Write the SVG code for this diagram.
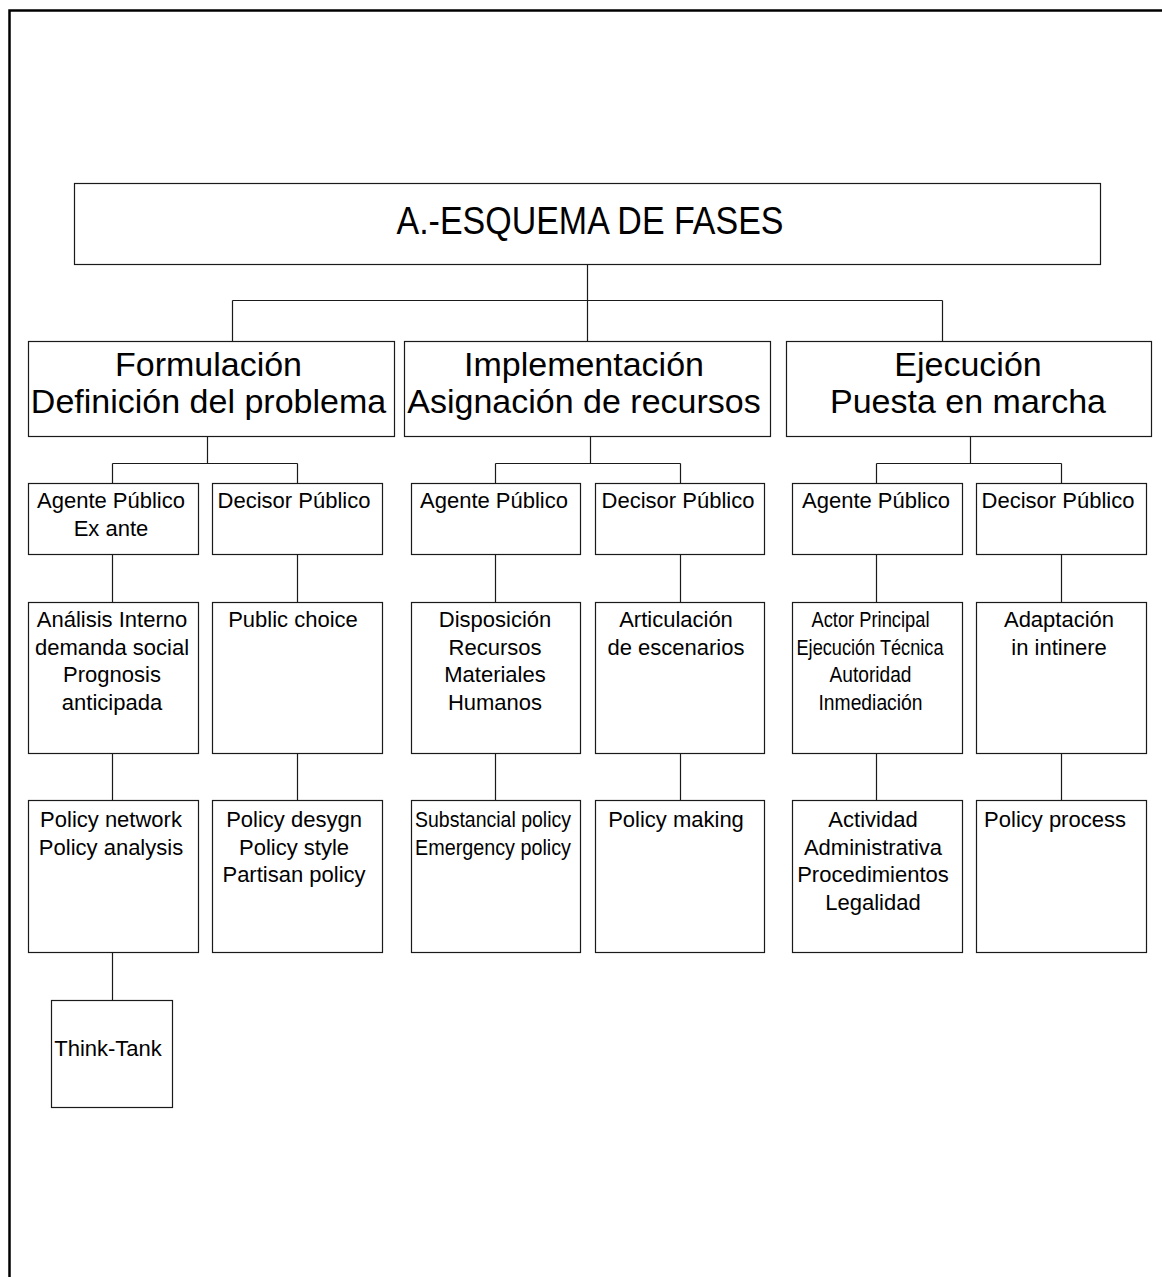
<svg xmlns="http://www.w3.org/2000/svg" width="1162" height="1277" viewBox="0 0 1162 1277">
  <style>
    .box { fill: #ffffff; stroke: #1a1a1a; stroke-width: 1.2; }
    .link { fill: none; stroke: #1a1a1a; stroke-width: 1.2; }
    .frame { fill: none; stroke: #000000; stroke-width: 2.5; }
    text { font-family: "Liberation Sans", Arial, sans-serif; fill: #000000; text-anchor: middle; }
    .t0 { font-size: 38px; }
    .t1 { font-size: 34px; }
    .t2 { font-size: 22px; }
  </style>
  <rect width="1162" height="1277" fill="#ffffff"/>

  <!-- page frame: top and left edges -->
  <path class="frame" d="M9.5,1277 V10.5 H1162"/>

  <!-- connectors -->
  <g id="connectors">
    <path class="link" d="M587.5,265 V300.5 M232.5,300.5 H942.5 M232.5,300.5 V341 M587.5,300.5 V341 M942.5,300.5 V341"/>
    <path class="link" d="M207.5,437 V463.5 M112.5,463.5 H297.5 M112.5,463.5 V483 M297.5,463.5 V483"/>
    <path class="link" d="M590.5,437 V463.5 M495.5,463.5 H680.5 M495.5,463.5 V483 M680.5,463.5 V483"/>
    <path class="link" d="M970.5,437 V463.5 M876.5,463.5 H1061.5 M876.5,463.5 V483 M1061.5,463.5 V483"/>
    <path class="link" d="M112.5,555 V602 M297.5,555 V602 M495.5,555 V602 M680.5,555 V602 M876.5,555 V602 M1061.5,555 V602"/>
    <path class="link" d="M112.5,754 V800 M297.5,754 V800 M495.5,754 V800 M680.5,754 V800 M876.5,754 V800 M1061.5,754 V800"/>
    <path class="link" d="M112.5,953 V1000"/>
  </g>

  <!-- root -->
  <g id="root">
    <rect class="box" x="74.5" y="183.5" width="1026" height="81"/>
    <text class="t0" x="590" y="234" textLength="387" lengthAdjust="spacingAndGlyphs">A.-ESQUEMA DE FASES</text>
  </g>

  <!-- phases -->
  <g id="formulacion">
    <rect class="box" x="28.5" y="341.5" width="366" height="95"/>
    <text class="t1" x="208.5" y="376">Formulación</text>
    <text class="t1" x="208.5" y="412.5">Definición del problema</text>
  </g>
  <g id="implementacion">
    <rect class="box" x="404.5" y="341.5" width="366" height="95"/>
    <text class="t1" x="584" y="376">Implementación</text>
    <text class="t1" x="584" y="412.5">Asignación de recursos</text>
  </g>
  <g id="ejecucion">
    <rect class="box" x="786.5" y="341.5" width="365" height="95"/>
    <text class="t1" x="968" y="376">Ejecución</text>
    <text class="t1" x="968" y="412.5">Puesta en marcha</text>
  </g>

  <!-- actors -->
  <g id="agente-1">
    <rect class="box" x="28.5" y="483.5" width="170" height="71"/>
    <text class="t2" x="111" y="508">Agente Público</text>
    <text class="t2" x="111" y="536">Ex ante</text>
  </g>
  <g id="decisor-1">
    <rect class="box" x="212.5" y="483.5" width="170" height="71"/>
    <text class="t2" x="294" y="508">Decisor Público</text>
  </g>
  <g id="agente-2">
    <rect class="box" x="411.5" y="483.5" width="169" height="71"/>
    <text class="t2" x="494" y="508">Agente Público</text>
  </g>
  <g id="decisor-2">
    <rect class="box" x="595.5" y="483.5" width="169" height="71"/>
    <text class="t2" x="678" y="508">Decisor Público</text>
  </g>
  <g id="agente-3">
    <rect class="box" x="792.5" y="483.5" width="170" height="71"/>
    <text class="t2" x="876" y="508">Agente Público</text>
  </g>
  <g id="decisor-3">
    <rect class="box" x="976.5" y="483.5" width="170" height="71"/>
    <text class="t2" x="1058" y="508">Decisor Público</text>
  </g>

  <!-- third level -->
  <g id="analisis">
    <rect class="box" x="28.5" y="602.5" width="170" height="151"/>
    <text class="t2" x="112" y="627">Análisis Interno</text>
    <text class="t2" x="112" y="655">demanda social</text>
    <text class="t2" x="112" y="682">Prognosis</text>
    <text class="t2" x="112" y="710">anticipada</text>
  </g>
  <g id="public-choice">
    <rect class="box" x="212.5" y="602.5" width="170" height="151"/>
    <text class="t2" x="293" y="627">Public choice</text>
  </g>
  <g id="disposicion">
    <rect class="box" x="411.5" y="602.5" width="169" height="151"/>
    <text class="t2" x="495" y="627">Disposición</text>
    <text class="t2" x="495" y="655">Recursos</text>
    <text class="t2" x="495" y="682">Materiales</text>
    <text class="t2" x="495" y="710">Humanos</text>
  </g>
  <g id="articulacion">
    <rect class="box" x="595.5" y="602.5" width="169" height="151"/>
    <text class="t2" x="676" y="627">Articulación</text>
    <text class="t2" x="676" y="655">de escenarios</text>
  </g>
  <g id="actor-principal">
    <rect class="box" x="792.5" y="602.5" width="170" height="151"/>
    <text class="t2" x="870.5" y="627" textLength="118" lengthAdjust="spacingAndGlyphs">Actor Principal</text>
    <text class="t2" x="870" y="655" textLength="147" lengthAdjust="spacingAndGlyphs">Ejecución Técnica</text>
    <text class="t2" x="870.5" y="682" textLength="82" lengthAdjust="spacingAndGlyphs">Autoridad</text>
    <text class="t2" x="870.5" y="710" textLength="104" lengthAdjust="spacingAndGlyphs">Inmediación</text>
  </g>
  <g id="adaptacion">
    <rect class="box" x="976.5" y="602.5" width="170" height="151"/>
    <text class="t2" x="1059" y="627">Adaptación</text>
    <text class="t2" x="1059" y="655">in intinere</text>
  </g>

  <!-- fourth level -->
  <g id="policy-network">
    <rect class="box" x="28.5" y="800.5" width="170" height="152"/>
    <text class="t2" x="111" y="827">Policy network</text>
    <text class="t2" x="111" y="855">Policy analysis</text>
  </g>
  <g id="policy-desygn">
    <rect class="box" x="212.5" y="800.5" width="170" height="152"/>
    <text class="t2" x="294" y="827">Policy desygn</text>
    <text class="t2" x="294" y="855">Policy style</text>
    <text class="t2" x="294" y="882">Partisan policy</text>
  </g>
  <g id="substancial">
    <rect class="box" x="411.5" y="800.5" width="169" height="152"/>
    <text class="t2" x="493" y="827" textLength="156" lengthAdjust="spacingAndGlyphs">Substancial policy</text>
    <text class="t2" x="493" y="855" textLength="156" lengthAdjust="spacingAndGlyphs">Emergency policy</text>
  </g>
  <g id="policy-making">
    <rect class="box" x="595.5" y="800.5" width="169" height="152"/>
    <text class="t2" x="676" y="827">Policy making</text>
  </g>
  <g id="actividad">
    <rect class="box" x="792.5" y="800.5" width="170" height="152"/>
    <text class="t2" x="873" y="827">Actividad</text>
    <text class="t2" x="873" y="855">Administrativa</text>
    <text class="t2" x="873" y="882">Procedimientos</text>
    <text class="t2" x="873" y="910">Legalidad</text>
  </g>
  <g id="policy-process">
    <rect class="box" x="976.5" y="800.5" width="170" height="152"/>
    <text class="t2" x="1055" y="827">Policy process</text>
  </g>

  <!-- fifth level -->
  <g id="think-tank">
    <rect class="box" x="51.5" y="1000.5" width="121" height="107"/>
    <text class="t2" x="108" y="1056">Think-Tank</text>
  </g>
</svg>
